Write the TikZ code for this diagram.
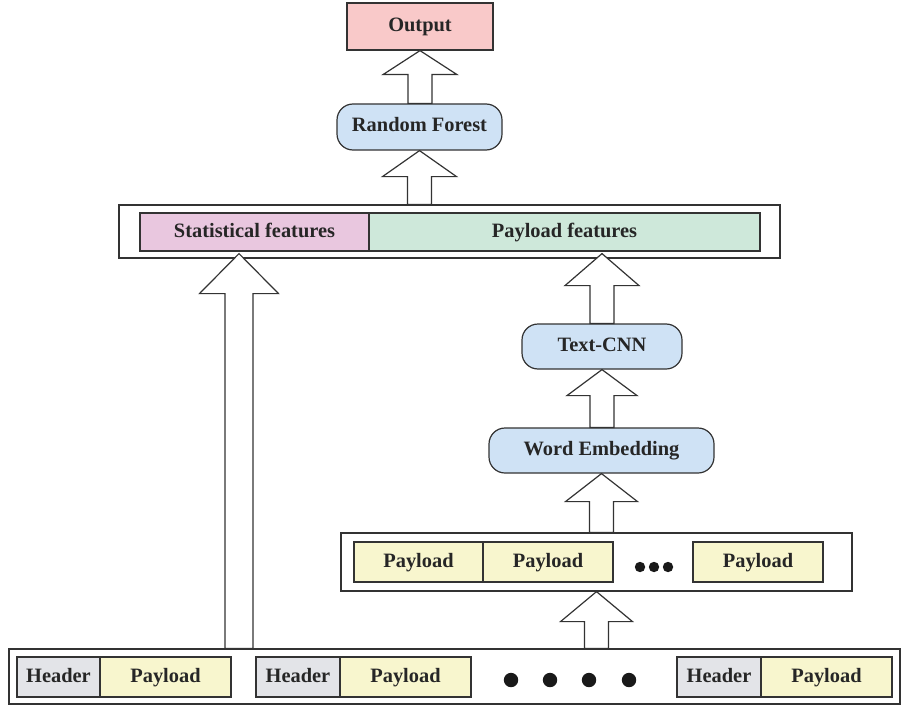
\documentclass[tikz,border=0pt]{standalone}
\usepackage{fontspec}
\setmainfont{Liberation Serif}
\usepackage{xcolor}
\usepackage{tikz}
\usetikzlibrary{calc}

\definecolor{outpink}{HTML}{F9C9C9}
\definecolor{boxblue}{HTML}{CFE2F5}
\definecolor{statpink}{HTML}{E9C7DF}
\definecolor{paygreen}{HTML}{CEE8DA}
\definecolor{payyellow}{HTML}{F8F6CE}
\definecolor{headgray}{HTML}{E3E4E8}
\definecolor{edge}{HTML}{333333}

% block arrow: #1 tip, #2 anchor on the level of the tail,
% #3 head length, #4 half head width, #5 half shaft width
\newcommand{\blockup}[5]{%
  \draw[blockarr] (#1) -- ++(#4,#3) -- ++(-#4+#5,0)
    -- ($(#1 |- #2)+(#5,0)$) -- ($(#1 |- #2)+(-#5,0)$)
    -- ($(#1)+(-#5,#3)$) -- ++(-#4+#5,0) -- cycle;}

\begin{document}
\begin{tikzpicture}[x=0.5pt,y=-0.5pt,font=\bfseries\fontsize{10.2}{12}\selectfont]
        % Define the styles
        \tikzstyle{box}=[draw=edge, line width=0.6pt, inner sep=0pt, text=black!85, text height=7pt, text depth=2pt];
        \tikzstyle{model}=[box, fill=boxblue, rounded corners=8pt];
        \tikzstyle{frame}=[draw=edge, line width=0.6pt, fill=white, inner sep=0pt];
        \tikzstyle{blockarr}=[draw=edge, line width=0.6pt, fill=white, line join=miter];

        \useasboundingbox (0,0) rectangle (904,706);

        % Output and classifier
        \node[box, fill=outpink, minimum width=73pt, minimum height=23.5pt] (out) at (420,26.5) {Output};
        \node[model, minimum width=82.5pt, minimum height=23pt] (rf) at (419.5,127) {Random Forest};

        % Feature vector
        \node[frame, minimum width=330.5pt, minimum height=26.5pt] (feat) at (449.5,231.5) {};
        \node[box, fill=statpink, minimum width=114.5pt, minimum height=19pt] (stat) at (254.5,232) {Statistical features};
        \node[box, fill=paygreen, minimum width=195.5pt, minimum height=19pt] (payf) at (564.5,232) {Payload features};

        % Payload branch
        \node[model, minimum width=80pt, minimum height=22.5pt] (cnn) at (602,346.5) {Text-CNN};
        \node[model, minimum width=112.5pt, minimum height=22.5pt] (emb) at (601.5,450.5) {Word Embedding};

        % Arrow tips on the feature vector
        \coordinate (statin) at ($(stat.south)+(-15.5,2)$);
        \coordinate (payin) at ($(payf.south -| cnn.north)+(0,2)$);

        % Extracted payloads
        \node[frame, minimum width=255.5pt, minimum height=29pt] (pbox) at (596.5,562) {};
        \node[box, fill=payyellow, minimum width=64.5pt, minimum height=20pt] (pa) at (418.5,562) {Payload};
        \node[box, fill=payyellow, minimum width=65pt, minimum height=20pt] (pb) at (548,562) {Payload};
        \node[box, fill=payyellow, minimum width=65pt, minimum height=20pt] (pc) at (758,562) {Payload};
        \foreach \x in {640,654,668}
            \fill[black!90] (\x,567) circle (2.6pt);

        % Packets
        \node[frame, minimum width=445.5pt, minimum height=27.5pt] (bot) at (454.5,676.5) {};
        \node[box, fill=headgray, minimum width=41.5pt, minimum height=20pt] (h1) at (58.5,677) {Header};
        \node[box, fill=payyellow, minimum width=65.5pt, minimum height=20pt] (p1) at (165.5,677) {Payload};
        \node[box, fill=headgray, minimum width=42pt, minimum height=20pt] (h2) at (298,677) {Header};
        \node[box, fill=payyellow, minimum width=65.5pt, minimum height=20pt] (p2) at (405.5,677) {Payload};
        \node[box, fill=headgray, minimum width=42pt, minimum height=20pt] (h3) at (719,677) {Header};
        \node[box, fill=payyellow, minimum width=65.5pt, minimum height=20pt] (p3) at (826.5,677) {Payload};
        \foreach \x in {511,550,589,629}
            \fill[black!90] (\x,680) circle (3.6pt);

        % Block arrows
        \blockup{out.south}{rf.north}{24}{37}{12}
        \blockup{rf.south}{feat.north}{26}{37}{12}
        \blockup{statin}{bot.north}{40}{39.5}{14}
        \blockup{payin}{cnn.north}{32}{37}{12}
        \blockup{cnn.south}{emb.north}{26}{35}{12}
        \blockup{emb.south}{pbox.north}{28}{36}{12}
        \blockup{pbox.south}{bot.north}{30}{36}{12}

    \end{tikzpicture}
\end{document}
